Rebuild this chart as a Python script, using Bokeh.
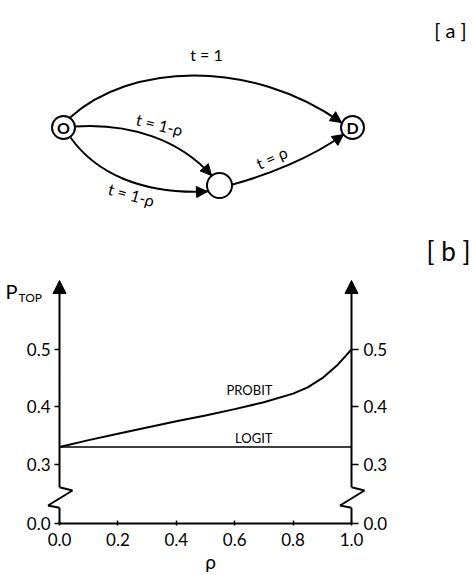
import math
from bokeh.plotting import figure
from bokeh.models import (Range1d, FixedTicker, LinearAxis, Label, Arrow, NormalHead)
from bokeh.layouts import column
from bokeh.core.properties import value
from bokeh.embed import file_html
from bokeh.resources import INLINE

FONT = "Lato"

# ---------------- data: panel [b] ----------------
rho = [0.0, 0.1, 0.2, 0.3, 0.4, 0.5, 0.6, 0.7, 0.8, 0.85, 0.9, 0.95, 1.0]
probit = [0.33, 0.342, 0.353, 0.364, 0.375, 0.385, 0.396, 0.408, 0.423, 0.434, 0.450, 0.472, 0.50]
logit = [0.33, 0.33, 0.33, 0.33, 0.33, 0.33, 0.33, 0.33, 0.33, 0.33, 0.33, 0.33, 0.33]
x_ticks = [0.0, 0.2, 0.4, 0.6, 0.8, 1.0]
x_tick_labels = ["0.0", "0.2", "0.4", "0.6", "0.8", "1.0"]
Y_BREAK = 0.196          # where the broken axis shows "0.0"
y_ticks = [Y_BREAK, 0.3, 0.4, 0.5]
y_tick_labels = ["0.0", "0.3", "0.4", "0.5"]

# ---------------- data: panel [a] (network) ----------------
node_x = [63, 352, 219]
node_y = [127, 127, 185]
node_r = [11.5, 11.5, 12.5]
node_lbl = ["O", "D"]
# cubic bezier edges: start, control0, control1, end(arrow tip)
e_x0 = [69, 74, 70, 232]
e_y0 = [117.5, 126, 137, 184]
e_cx0 = [130, 130, 95, 265]
e_cy0 = [62, 122, 172, 175]
e_cx1 = [250, 180, 140, 310]
e_cy1 = [58, 140, 194, 158]
e_x1 = [341, 211, 207, 343]
e_y1 = [122, 175, 191, 134]
e_lbl = ["t = 1", "t = 1-\u03c1", "t = 1-\u03c1", "t = \u03c1"]
e_lbl_x = [206, 159, 131, 271]
e_lbl_y = [54, 124, 194, 157]
e_lbl_ang = [0, -14, -16, 24]

W, HA, HB = 472, 228, 345

# ================= panel [a] =================
pa = figure(width=W, height=HA, x_range=Range1d(0, W), y_range=Range1d(HA, 0),
            output_backend="svg", toolbar_location=None, min_border=0,
            x_axis_type=None, y_axis_type=None)
pa.grid.visible = False
pa.outline_line_color = None

pa.bezier(x0=e_x0, y0=e_y0, x1=e_x1, y1=e_y1, cx0=e_cx0, cy0=e_cy0,
          cx1=e_cx1, cy1=e_cy1, line_color="black", line_width=2)
for x1, y1, cx1, cy1 in zip(e_x1, e_y1, e_cx1, e_cy1):
    dx, dy = x1 - cx1, y1 - cy1
    L = math.hypot(dx, dy)
    pa.add_layout(Arrow(end=NormalHead(size=11, fill_color="black", line_color="black"),
                        x_start=x1 - 5 * dx / L, y_start=y1 - 5 * dy / L,
                        x_end=x1, y_end=y1, line_width=2, line_color="black"))

pa.circle(x=node_x, y=node_y, radius=node_r, fill_color="white",
          line_color="black", line_width=2)
pa.text(x=node_x[:2], y=node_y[:2], text=node_lbl, text_font=value(FONT),
        text_font_size="16px", text_font_style="bold", text_align="center",
        text_baseline="middle", text_color="black")
pa.text(x=e_lbl_x, y=e_lbl_y, text=e_lbl,
        angle=[math.radians(a) for a in e_lbl_ang], text_font=value(FONT),
        text_font_size="16px", text_align="center", text_baseline="middle",
        text_color="black")
pa.add_layout(Label(x=450, y=29.5, text="[ a ]", text_font=FONT, text_font_size="20px",
                    text_align="center", text_baseline="middle", text_color="black"))

# ================= panel [b] =================
# page pixel <-> data mapping (rho=0 at x=59px, 292 px per unit; 0.5 at y=349px, 573.5 px per unit)
X0_PX, X_SCALE = 59, 292
Y05_PX, Y_SCALE = 349, 573.5


def fx(px):
    return (px - X0_PX) / X_SCALE


def fy(py):
    return 0.5 - (py - Y05_PX) / Y_SCALE


pb = figure(width=W, height=HB, x_range=Range1d(fx(0), fx(W)),
            y_range=Range1d(fy(HA + HB), fy(HA)),
            output_backend="svg", toolbar_location=None, min_border=0,
            x_axis_type=None, y_axis_type=None)
pb.grid.visible = False
pb.outline_line_color = None

pb.line(rho, logit, line_color="black", line_width=1.6)
pb.line(rho, probit, line_color="black", line_width=2)

xa = LinearAxis(fixed_location=Y_BREAK, bounds=(0, 1), ticker=FixedTicker(ticks=x_ticks))
xa.major_label_overrides = dict(zip(x_ticks, x_tick_labels))
xa.axis_line_width = 2
xa.major_tick_in = 3
xa.major_tick_out = 2
xa.major_tick_line_width = 1.5
xa.minor_tick_line_color = None
xa.major_label_standoff = 7
xa.major_label_text_font = FONT
xa.major_label_text_font_size = "17px"
xa.major_label_text_color = "black"
pb.add_layout(xa, "below")

ya = LinearAxis(fixed_location=0.0)
yb = LinearAxis(fixed_location=1.0)
pb.add_layout(ya, "left")
pb.add_layout(yb, "right")
for ax, tick_out, standoff in ((ya, 5, 4), (yb, 7, 5)):
    ax.ticker = FixedTicker(ticks=y_ticks)
    ax.bounds = (Y_BREAK, 0.62)
    ax.major_label_overrides = dict(zip(y_ticks, y_tick_labels))
    ax.axis_line_color = None
    ax.major_tick_in = 0
    ax.major_tick_out = tick_out
    ax.major_tick_line_width = 1.5
    ax.minor_tick_line_color = None
    ax.major_label_standoff = standoff
    ax.major_label_text_font = FONT
    ax.major_label_text_font_size = "17px"
    ax.major_label_text_color = "black"

# vertical axis lines with break zigzag and arrow heads
zz_hi, zz_a, zz_b, zz_lo = fy(486.7), fy(490), fy(505), fy(507.3)
dxr, dxl = 13 / X_SCALE, -11.5 / X_SCALE
for x0 in (0.0, 1.0):
    pb.add_layout(Arrow(end=NormalHead(size=13, fill_color="black", line_color="black"),
                        x_start=x0, y_start=zz_hi, x_end=x0, y_end=fy(280),
                        line_width=2, line_color="black"))
    segs = [(x0, Y_BREAK, x0, zz_lo), (x0, zz_lo, x0 + dxl, zz_b),
            (x0 + dxl, zz_b, x0 + dxr, zz_a), (x0 + dxr, zz_a, x0, zz_hi)]
    for sx, sy, ex, ey in segs:
        pb.add_layout(Arrow(end=None, x_start=sx, y_start=sy, x_end=ex, y_end=ey,
                            line_width=2, line_color="black"))

pb.add_layout(Label(x=fx(272), y=fy(389), text="PROBIT", text_font=FONT, text_font_size="13px",
                    text_align="right", text_baseline="middle", text_color="black"))
pb.add_layout(Label(x=fx(272), y=fy(437.5), text="LOGIT", text_font=FONT, text_font_size="13px",
                    text_align="right", text_baseline="middle", text_color="black"))
pb.add_layout(Label(x=fx(210), y=fy(561), text="\u03c1", text_font=FONT, text_font_size="19px",
                    text_align="center", text_baseline="middle", text_color="black"))
pb.add_layout(Label(x=fx(17), y=fy(290), text="P", text_font=FONT, text_font_size="20px",
                    text_align="right", text_baseline="middle", text_color="black"))
pb.add_layout(Label(x=fx(18), y=fy(296.5), text="TOP", text_font=FONT, text_font_size="12px",
                    text_align="left", text_baseline="middle", text_color="black"))
pb.add_layout(Label(x=fx(448), y=fy(250), text="[ b ]", text_font=FONT, text_font_size="26px",
                    text_align="center", text_baseline="middle", text_color="black"))

layout = column(pa, pb, spacing=0)
open("out.html", "w").write(file_html(layout, INLINE))
